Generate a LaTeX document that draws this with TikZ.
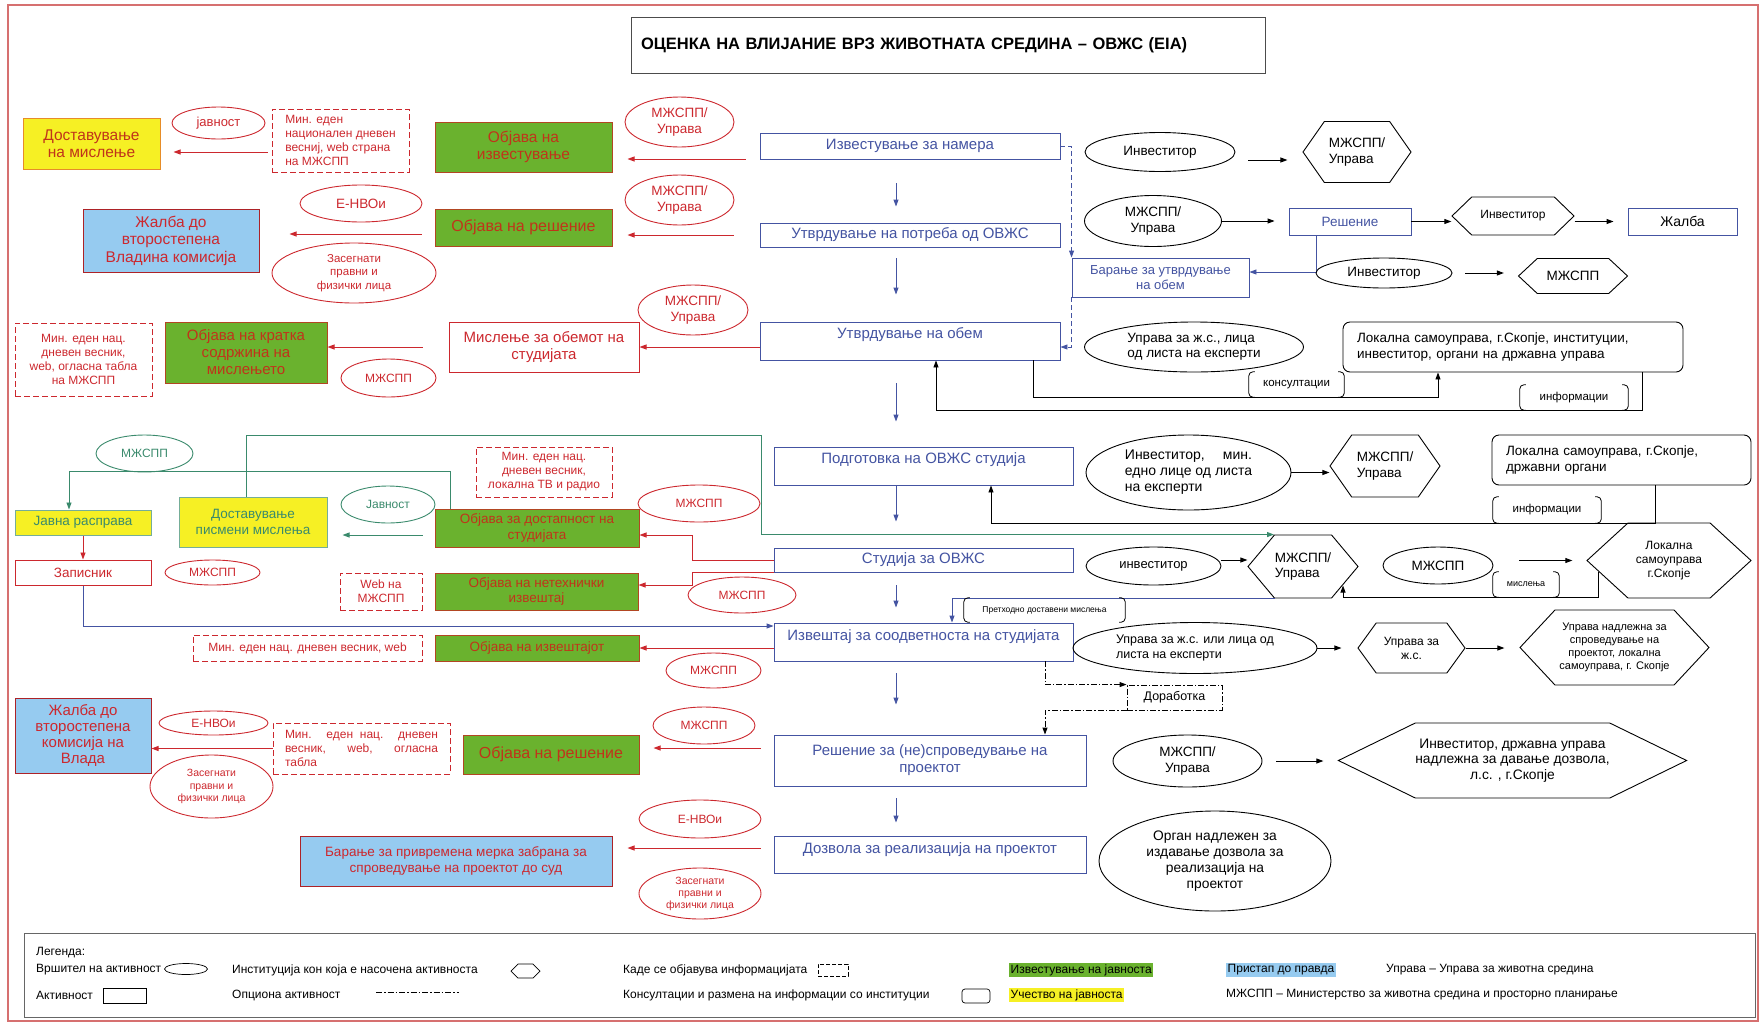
\documentclass[tikz,border=0pt]{standalone}
\usepackage{fontspec}
\setmainfont{Liberation Sans}
\usetikzlibrary{arrows.meta,shapes.geometric,shapes.symbols}

\definecolor{actblue}{RGB}{68,84,162}
\definecolor{pubred}{RGB}{204,40,46}
\definecolor{pubgreen}{RGB}{106,178,46}
\definecolor{pubedge}{RGB}{178,70,34}
\definecolor{pubtext}{RGB}{192,52,26}
\definecolor{partyellow}{RGB}{246,240,36}
\definecolor{partedge}{RGB}{230,140,40}
\definecolor{justblue}{RGB}{150,203,240}
\definecolor{pubteal}{RGB}{58,138,108}
\definecolor{framered}{RGB}{214,112,112}

\tikzset{
  actbox/.style={draw=actblue, text=actblue, fill=white, line width=0.9pt, inner sep=4pt, align=center, font=\fontsize{15}{17}\selectfont},
  pubbox/.style={draw=pubedge, fill=pubgreen, text=pubtext, line width=1pt, inner sep=2pt, align=center, font=\fontsize{15.5}{17.5}\selectfont},
  partbox/.style={draw=partedge, fill=partyellow, text=pubtext, line width=1pt, inner sep=2pt, align=center, font=\fontsize{15.5}{17.5}\selectfont},
  justbox/.style={draw=pubred!85!black, fill=justblue, text=pubred, line width=1pt, inner sep=2pt, align=center, font=\fontsize{15.5}{17.5}\selectfont},
  redbox/.style={draw=pubred, fill=white, text=pubred, line width=1pt, inner sep=2pt, align=center, font=\fontsize{15}{17}\selectfont},
  redell/.style={ellipse, draw=pubred, text=pubred, line width=0.9pt, inner sep=0pt, align=center, font=\fontsize{12}{14}\selectfont},
  tealell/.style={redell, draw=pubteal, text=pubteal},
  blkell/.style={ellipse, draw=black, line width=0.9pt, inner sep=0pt, align=center, font=\fontsize{13.5}{15.5}\selectfont},
  hexnode/.style={signal, signal to=west and east, draw=black, line width=0.9pt, inner sep=0pt, align=center, font=\fontsize{13}{15}\selectfont},
  instbox/.style={draw=black, rounded corners=7pt, line width=0.9pt, inner sep=4pt, align=left, font=\fontsize{13.5}{15.5}\selectfont},
  wherebox/.style={draw=pubred, dash pattern=on 6pt off 3pt, text=pubred, line width=0.9pt, inner sep=3pt, align=center, font=\fontsize{12}{14}\selectfont},
  brklabel/.style={inner sep=0pt, font=\fontsize{11.5}{13}\selectfont},
  blueline/.style={actblue, line width=0.9pt},
  redline/.style={pubred, line width=0.9pt},
  tealline/.style={pubteal, line width=0.9pt},
  blkline/.style={black, line width=0.9pt},
  optline/.style={dash pattern=on 6pt off 2pt on 1.5pt off 2pt},
  arrowtip/.style={-{Triangle[length=7pt,width=5pt]}},
  legtext/.style={anchor=west, inner sep=0pt, font=\fontsize{12}{14}\selectfont},
}

\begin{document}
\begin{tikzpicture}[x=1pt,y=-1pt]
\useasboundingbox (0,0) rectangle (1762,1026);
\draw[framered, line width=1.2pt] (8,5) rectangle (1758,1021);

\node[draw=black!70, line width=1pt, inner sep=10pt, text width=614pt, minimum height=56pt, align=left, font=\bfseries\fontsize{16.5}{19}\selectfont] (title) at (948,45) {ОЦЕНКА НА ВЛИЈАНИЕ ВРЗ ЖИВОТНАТА СРЕДИНА – ОВЖС (EIA)};

% main column
\node[actbox, minimum width=300pt, minimum height=26pt] (izv) at (910,146) {Известување за намера};
\node[actbox, minimum width=300pt, minimum height=24pt] (potr) at (910,235) {Утврдување на потреба од ОВЖС};
\node[actbox, minimum width=300pt, text height=12pt, text depth=18pt] (obem) at (910,341) {Утврдување на обем};
\node[actbox, minimum width=299pt, text height=12pt, text depth=18pt] (podg) at (923.5,466) {Подготовка на ОВЖС студија};
\node[actbox, minimum width=299pt, minimum height=24pt] (stud) at (923.5,560) {Студија за ОВЖС};
\node[actbox, minimum width=299pt, text height=13pt, text depth=17pt] (izvs) at (923.5,642) {Извештај за соодветноста на студијата};
\node[actbox, minimum width=312pt, minimum height=51pt] (resn) at (930,760.5) {Решение за (не)спроведување на\\проектот};
\node[actbox, minimum width=312pt, text height=13pt, text depth=16pt] (dozv) at (930,854.5) {Дозвола за реализација на проектот};

\coordinate (ax) at (896,0);
\foreach \fa/\fb/\sa/\sb in {izv/potr/24/16, potr/obem/11/27, obem/podg/23/25, podg/stud/1/26, stud/izvs/13/15, izvs/resn/12/30, resn/dozv/12/13}
  \draw[blueline, arrowtip, shorten <=\sa pt, shorten >=\sb pt] (\fa.south -| ax) -- (\fb.north -| ax);

% right side, top
\node[blkell, minimum width=150pt, minimum height=39pt] (inv1) at (1160,152) {Инвеститор};
\node[hexnode, minimum width=108pt, minimum height=61pt, signal pointer angle=110, align=left, font=\fontsize{13.5}{15.5}\selectfont] (hx1) at (1357,152) {МЖСПП/\\Управа};
\draw[blkline, arrowtip, shorten <=13pt, shorten >=15pt] ([yshift=-8pt]inv1.east) -- ([yshift=-8pt]inv1.east -| hx1.west);

\node[blkell, minimum width=137pt, minimum height=51pt] (mz2) at (1153,221) {МЖСПП/\\Управа};
\node[actbox, minimum width=122pt, minimum height=27pt, font=\fontsize{13.5}{15.5}\selectfont] (resb) at (1350,221.5) {Решение};
\node[hexnode, minimum width=122pt, minimum height=38pt, signal pointer angle=88, font=\fontsize{12}{14}\selectfont] (hx2) at (1513,216) {Инвеститор};
\node[draw=actblue, line width=0.9pt, minimum width=109pt, minimum height=27pt, font=\fontsize{14}{16}\selectfont] (zhal) at (1682.5,221.5) {Жалба};
\draw[blkline, arrowtip, shorten >=14pt] (mz2.east) -- (mz2.east -| resb.west);
\draw[blkline, arrowtip] (resb.east) -- (resb.east -| hx2.west);
\draw[blkline, arrowtip, shorten >=14pt] (resb.east -| hx2.east) -- (resb.east -| zhal.west);

\node[actbox, minimum width=177pt, minimum height=39pt, font=\fontsize{13}{15.5}\selectfont] (barj) at (1160.5,277.5) {Барање за утврдување\\на обем};
\draw[blueline, dash pattern=on 5pt off 3pt, arrowtip] (izv.east) -| (barj.north west);
\draw[blueline, dash pattern=on 5pt off 3pt, arrowtip] (barj.south west) |- ([yshift=-6pt]obem.east);
\draw[blueline, arrowtip] ([xshift=-34pt]resb.south) |- ([yshift=5.5pt]barj.east);

\node[blkell, minimum width=136pt, minimum height=30pt] (inv3) at (1384,273) {Инвеститор};
\node[hexnode, minimum width=109pt, minimum height=35pt, signal pointer angle=86, font=\fontsize{13.5}{15.5}\selectfont] (hx3) at (1573,276) {МЖСПП};
\draw[blkline, arrowtip, shorten <=13pt, shorten >=14pt] (inv3.east) -- (inv3.east -| hx3.west);

\node[blkell, minimum width=219pt, minimum height=50pt, align=left] (upr4) at (1194,347) {Управа за ж.с., лица\\од листа на експерти};
\node[instbox, minimum width=340pt, minimum height=50pt, text width=312pt] (inst1) at (1513,347) {\makebox[312pt][s]{Локална самоуправа, г.Скопје, институции,}\\инвеститор, органи на државна управа};
\node[brklabel, minimum width=95pt, minimum height=25pt] (kons) at (1296.5,384.5) {консултации};
\node[brklabel, minimum width=108pt, minimum height=25pt] (info1) at (1574,397.5) {информации};
\draw[blkline, arrowtip] ([xshift=123pt]obem.south) -- ++(0,37) -| ([xshift=-75pt]inst1.south);
\draw[blkline, arrowtip] ([xshift=129pt]inst1.south) -- ++(0,38) -| ([xshift=26pt]obem.south);

% right side, study
\node[blkell, minimum width=205pt, minimum height=75pt, align=left, font=\fontsize{14}{16}\selectfont] (inv5) at (1188.5,472.5) {\makebox[127pt][s]{Инвеститор, мин.}\\едно лице од листа\\на експерти};
\node[hexnode, minimum width=110pt, minimum height=62pt, signal pointer angle=110, align=left, font=\fontsize{13.5}{15.5}\selectfont] (hx5) at (1385,466) {МЖСПП/\\Управа};
\draw[blkline, arrowtip] (inv5.east) -- (inv5.east -| hx5.west);
\node[instbox, minimum width=259pt, minimum height=50pt, text width=231pt] (inst2) at (1621.5,460) {\makebox[231pt][s]{Локална самоуправа, г.Скопје,}\\државни органи};
\node[hexnode, minimum width=164pt, minimum height=75pt, signal pointer angle=85, font=\fontsize{12}{14}\selectfont] (hx6) at (1669,560.5) {Локална\\самоуправа\\г.Скопје};
\node[brklabel, minimum width=108pt, minimum height=26pt] (info2) at (1547,510) {информации};
\draw[blkline, arrowtip] ([xshift=33.5pt]inst2.south) -- ++(0,38) -| ([xshift=67.5pt]podg.south);

\node[blkell, minimum width=135pt, minimum height=38pt, font=\fontsize{13}{15}\selectfont] (inv6) at (1153.5,566) {инвеститор};
\node[hexnode, minimum width=110pt, minimum height=63pt, signal pointer angle=100, align=left, font=\fontsize{13.5}{15.5}\selectfont] (hx7) at (1303,566.5) {МЖСПП/\\Управа};
\draw[blkline, arrowtip] ([yshift=6pt]inv6.east) -- ([yshift=6pt]inv6.east -| hx7.west);
\node[blkell, minimum width=110pt, minimum height=37pt] (mz7) at (1438,565.5) {МЖСПП};
\draw[blkline, arrowtip, shorten <=26pt, shorten >=14pt] (mz7.east |- hx6.west) -- (hx6.west);
\node[brklabel, minimum width=66pt, minimum height=25pt, font=\fontsize{9}{10}\selectfont] (misl) at (1526,584.5) {мислења};
\draw[blkline, arrowtip] ([xshift=12pt,yshift=-11pt]hx6.west) -- ++(0,25.5) -| ([xshift=40pt,yshift=-19pt]hx7.center);
\node[brklabel, minimum width=161pt, minimum height=24pt, font=\fontsize{8.5}{10}\selectfont] (preth) at (1044.5,610) {Претходно доставени мислења};
\draw[blueline, arrowtip] ([xshift=-28pt]hx7.south) -| ([xshift=28.5pt]izvs.north);

% right side, report and decision
\node[blkell, minimum width=244pt, minimum height=51pt, align=left, font=\fontsize{12.5}{14.5}\selectfont] (upr8) at (1195,648) {Управа за ж.с. или лица од\\листа на експерти};
\node[hexnode, minimum width=107pt, minimum height=50pt, signal pointer angle=108, font=\fontsize{12}{14}\selectfont] (hx8) at (1411.5,648) {Управа за\\ж.с.};
\node[hexnode, minimum width=189pt, minimum height=75pt, signal pointer angle=94, font=\fontsize{11}{13}\selectfont] (hx9) at (1614.5,647.5) {Управа надлежна за\\спроведување на\\проектот, локална\\самоуправа, г. Скопје};
\draw[blkline, arrowtip, shorten >=16pt] (upr8.east) -- (upr8.east -| hx8.west);
\draw[blkline, arrowtip, shorten >=15pt] (hx8.east) -- (hx8.east -| hx9.west);

\node[draw, optline, line width=0.9pt, minimum width=95pt, minimum height=25pt, font=\fontsize{12.5}{14}\selectfont] (dor) at (1174.5,697.5) {Доработка};
\draw[blkline, optline, arrowtip] ([xshift=121.5pt]izvs.south) |- (dor.north west);
\draw[blkline, optline, arrowtip] (dor.south west) -| ([xshift=115pt]resn.north);

\node[blkell, minimum width=149pt, minimum height=52pt] (mz9) at (1187.5,761) {МЖСПП/\\Управа};
\node[hexnode, minimum width=339pt, minimum height=75pt, signal pointer angle=52, font=\fontsize{13.8}{15.8}\selectfont] (hx10) at (1512.5,760.5) {Инвеститор, државна управа\\надлежна за давање дозвола,\\л.с. , г.Скопје};
\draw[blkline, arrowtip, shorten <=14pt, shorten >=14pt] (mz9.east) -- (mz9.east -| hx10.west);
\node[blkell, minimum width=232pt, minimum height=100pt, font=\fontsize{13.8}{15.8}\selectfont] (org) at (1215,861) {Орган надлежен за\\издавање дозвола за\\реализација на\\проектот};

\foreach \n in {kons,info1,info2,misl,preth}
  \draw[blkline, line width=0.8pt, rounded corners=4pt] ([xshift=6pt]\n.north west) -| (\n.south west) -- ++(6,0)
    ([xshift=-6pt]\n.north east) -| (\n.south east) -- ++(-6,0);

% left side, top rows
\node[partbox, minimum width=137pt, minimum height=51pt] (dost1) at (91.5,143.5) {Доставување\\на мислење};
\node[redell, minimum width=93pt, minimum height=32pt, font=\fontsize{13}{15}\selectfont] (javn1) at (218.5,123) {јавност};
\node[wherebox, minimum width=137pt, minimum height=63pt, align=left] (web1) at (340.5,140.5) {Мин. еден\\национален дневен\\весниј, web страна\\на МЖСПП};
\node[pubbox, minimum width=177pt, minimum height=50pt] (pub1) at (523.5,147) {Објава на\\известување};
\node[redell, minimum width=109pt, minimum height=50pt, font=\fontsize{13.5}{15.5}\selectfont] (mz1) at (679.5,122) {МЖСПП/\\Управа};
\draw[redline, arrowtip, shorten <=14pt, shorten >=15pt] ([yshift=-13pt]izv.west) -- ([yshift=-13pt]izv.west -| pub1.east);
\draw[redline, arrowtip, shorten <=4pt, shorten >=13pt] ([yshift=-11.5pt]web1.west) -- ([yshift=-11.5pt]web1.west -| dost1.east);

\node[justbox, minimum width=176pt, minimum height=63pt] (jal1) at (171,240.5) {Жалба до\\второстепена\\Владина комисија};
\node[redell, minimum width=122pt, minimum height=37pt, font=\fontsize{13.5}{15.5}\selectfont] (nvo1) at (361,203.5) {Е-НВОи};
\node[redell, minimum width=164pt, minimum height=60pt, font=\fontsize{11.5}{13.5}\selectfont] (zas1) at (354,273) {Засегнати\\правни и\\физички лица};
\node[pubbox, minimum width=177pt, minimum height=37pt, font=\fontsize{16}{18}\selectfont] (pub2) at (523.5,227.5) {Објава на решение};
\node[redell, minimum width=109pt, minimum height=50pt, font=\fontsize{13.5}{15.5}\selectfont] (mz2l) at (679.5,200) {МЖСПП/\\Управа};
\draw[redline, arrowtip, shorten <=26pt, shorten >=15pt] (potr.west) -- (potr.west -| pub2.east);
\draw[redline, arrowtip, shorten <=13pt, shorten >=30pt] ([yshift=-6.5pt]pub2.west) -- ([yshift=-6.5pt]pub2.west -| jal1.east);

\node[wherebox, minimum width=137pt, minimum height=73pt] (web2) at (83.5,359.5) {Мин. еден нац.\\дневен весник,\\web, огласна табла\\на МЖСПП};
\node[pubbox, minimum width=162pt, minimum height=61pt, font=\fontsize{15}{17}\selectfont] (pub3) at (246,352.5) {Објава на кратка\\содржина на\\мислењето};
\node[redell, minimum width=95pt, minimum height=38pt] (mz3) at (388.5,378) {МЖСПП};
\node[redbox, minimum width=190pt, minimum height=50pt] (misl1) at (544,347) {Мислење за обемот на\\студијата};
\node[redell, minimum width=110pt, minimum height=50pt, font=\fontsize{13.5}{15.5}\selectfont] (mz3b) at (693,310) {МЖСПП/\\Управа};
\draw[redline, arrowtip] ([yshift=-6pt]obem.west) -- ([yshift=-6pt]obem.west -| misl1.east);
\draw[redline, arrowtip, shorten <=26pt] (misl1.west) -- (misl1.west -| pub3.east);

% left side, public participation
\node[tealell, minimum width=97pt, minimum height=37pt] (mzt) at (144.5,453.5) {МЖСПП};
\node[partbox, draw=pubteal!70, minimum width=136pt, minimum height=25pt, text=pubteal, font=\fontsize{13.5}{15.5}\selectfont] (javna) at (83,522.5) {Јавна расправа};
\node[redbox, minimum width=136pt, minimum height=25pt, font=\fontsize{13.5}{15.5}\selectfont] (zapis) at (83,572.5) {Записник};
\node[redell, minimum width=95pt, minimum height=25pt] (mzz) at (212.5,572.5) {МЖСПП};
\node[partbox, draw=pubteal!70, minimum width=148pt, minimum height=50pt, text=pubteal, font=\fontsize{13.5}{15.5}\selectfont] (dost) at (253,522) {Доставување\\писмени мислења};
\node[tealell, minimum width=94pt, minimum height=37pt] (javt) at (388,504.5) {Јавност};
\node[wherebox, minimum width=136pt, minimum height=50pt] (web3) at (544,472) {Мин. еден нац.\\дневен весник,\\локална ТВ и радио};
\node[pubbox, minimum width=204pt, minimum height=38pt, font=\fontsize{13.5}{15.5}\selectfont] (pubd) at (537,528) {Објава за достапност на\\студијата};
\node[redell, minimum width=122pt, minimum height=37pt] (mz4) at (699,503.5) {МЖСПП};
\node[wherebox, minimum width=82pt, minimum height=37pt] (web4) at (381,591.5) {Web на\\МЖСПП};
\node[pubbox, minimum width=203pt, minimum height=37pt, font=\fontsize{13.5}{15.5}\selectfont] (pubn) at (536.5,591.5) {Објава на нетехнички\\извештај};
\node[redell, minimum width=108pt, minimum height=36pt] (mz5) at (742,595) {МЖСПП};

\draw[redline, arrowtip] (stud.west) -- ++(-81,0) |- ([yshift=-7pt]pubd.east);
\draw[redline, arrowtip] (stud.south west) -- ++(-81,0) |- ([yshift=6.5pt]pubn.east);
\coordinate (gc) at (761,435);
\draw[tealline, arrowtip] ([xshift=-7pt]dost.north) |- (gc) |- ([xshift=-29pt]hx7.north);
\draw[tealline, arrowtip] ([xshift=-87pt]pubd.north) -- ++(0,-37) -| ([xshift=-14pt]javna.north);
\draw[tealline, arrowtip, shorten <=12pt, shorten >=15pt] ([yshift=-7pt]pubd.west) -- ([yshift=-7pt]pubd.west -| dost.east);
\draw[redline, arrowtip] (javna) -- (zapis);
\draw[blueline, arrowtip] (zapis.south) |- ([yshift=16pt]izvs.west);

% left side, lower rows
\node[wherebox, minimum width=229pt, minimum height=26pt] (web5) at (307.5,648) {Мин. еден нац. дневен весник, web};
\node[pubbox, minimum width=204pt, minimum height=26pt, font=\fontsize{13.5}{15.5}\selectfont] (pubi) at (537,648) {Објава на извештајот};
\draw[redline, arrowtip] ([yshift=-6pt]izvs.west) -- ([yshift=-6pt]izvs.west -| pubi.east);
\node[redell, minimum width=95pt, minimum height=35pt] (mz6) at (713.5,670.5) {МЖСПП};

\node[justbox, minimum width=136pt, minimum height=75pt, font=\fontsize{15}{16}\selectfont] (jal2) at (83,735.5) {Жалба до\\второстепена\\комисија на\\Влада};
\node[redell, minimum width=109pt, minimum height=24pt] (nvo2) at (213.5,723) {Е-НВОи};
\node[wherebox, minimum width=177pt, minimum height=51pt, align=left] (web6) at (361.5,748.5) {\makebox[153pt][s]{Мин. еден нац. дневен}\\\makebox[153pt][s]{весник, web, огласна}\\табла};
\node[redell, minimum width=123pt, minimum height=63pt, font=\fontsize{10.5}{12.5}\selectfont] (zas2) at (211.5,786.5) {Засегнати\\правни и\\физички лица};
\node[pubbox, minimum width=176pt, minimum height=39pt, font=\fontsize{16}{18}\selectfont] (pubr2) at (551,754.5) {Објава на решение};
\node[redell, minimum width=102pt, minimum height=37pt] (mz7l) at (704,725.5) {МЖСПП};
\draw[redline, arrowtip] (web6.west) -- (web6.west -| jal2.east);
\draw[redline, arrowtip, shorten <=13pt, shorten >=14pt] ([yshift=12.5pt]resn.west) -- ([yshift=12.5pt]resn.west -| pubr2.east);

\node[justbox, minimum width=312pt, minimum height=50pt, font=\fontsize{13.5}{15.5}\selectfont] (zabr) at (456,861) {Барање за привремена мерка забрана за\\спроведување на проектот до суд};
\node[redell, minimum width=122pt, minimum height=38pt] (nvo3) at (700,819) {Е-НВОи};
\node[redell, minimum width=122pt, minimum height=51pt, font=\fontsize{10.5}{12}\selectfont] (zas3) at (700,893.5) {Засегнати\\правни и\\физички лица};
\draw[redline, arrowtip, shorten <=13pt, shorten >=15pt] ([yshift=6.5pt]dozv.west) -- ([yshift=6.5pt]dozv.west -| zabr.east);

% legend
\node[draw=black!60, line width=1pt, minimum width=1731pt, minimum height=84pt] (leg) at (889.5,975) {};
\node[legtext] (lg0) at (36,953) {Легенда:};
\node[legtext] (lg1) at (36,970) {Вршител на активност};
\node[blkell, minimum width=43pt, minimum height=11pt, line width=0.7pt] (lgs1) at (186,969) {};
\node[legtext] (lg2) at (232,970) {Институција кон која е насочена активноста};
\node[hexnode, minimum width=29pt, minimum height=14pt, line width=0.7pt] (lgs2) at (525.5,971) {};
\node[legtext] (lg3) at (623,970) {Каде се објавува информацијата};
\node[draw, dash pattern=on 4pt off 2pt, line width=0.7pt, minimum width=30pt, minimum height=12pt] (lgs3) at (833,970) {};
\node[legtext, fill=pubgreen, inner sep=1.5pt] (lg4) at (1009,970) {Известување на јавноста};
\node[legtext, fill=justblue, inner sep=1.5pt] (lg5) at (1226,970) {Пристап до правда};
\node[legtext] (lg6) at (1386,970) {Управа – Управа за животна средина};
\node[legtext] (lg7) at (36,995) {Активност};
\node[draw, line width=0.7pt, minimum width=43pt, minimum height=15pt] (lgs7) at (124.5,996) {};
\node[legtext] (lg8) at (232,995) {Опциона активност};
\draw[optline, line width=0.7pt] (376,992) -- (459,992);
\node[legtext] (lg9) at (623,995) {Консултации и размена на информации со институции};
\node[draw, rounded corners=3pt, line width=0.7pt, minimum width=28pt, minimum height=14pt] (lgs9) at (976,996) {};
\node[legtext, fill=partyellow, inner sep=1.5pt] (lg10) at (1009,995) {Учество на јавноста};
\node[legtext] (lg11) at (1226,995) {МЖСПП – Министерство за животна средина и просторно планирање};
\end{tikzpicture}
\end{document}
